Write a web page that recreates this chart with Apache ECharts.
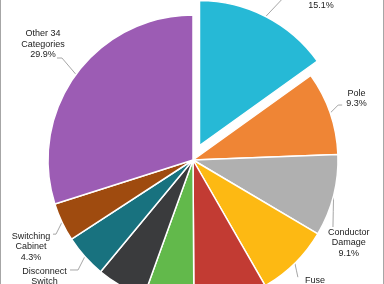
<!DOCTYPE html>
<html>
<head>
<meta charset="utf-8">
<script src="https://cdn.jsdelivr.net/npm/echarts@6/dist/echarts.min.js"></script>
<style>
  html, body { margin: 0; padding: 0; background: #ffffff; }
  #chart { width: 384px; height: 284px; }
</style>
</head>
<body>
<div id="chart"></div>
<script>
// ---- data ----
var categories = ['Transformer', 'Pole', 'Conductor\nDamage', 'Fuse', 'Tree Contact', 'Insulator', 'Recloser', 'Disconnect\nSwitch', 'Switching\nCabinet', 'Other 34\nCategories'];
var values = [15.1, 9.3, 9.1, 8.2, 8.2, 5.6, 5.5, 4.8, 4.3, 29.9];
var colors = ['#26B9D6', '#EF8535', '#B0B0B0', '#FDB913', '#C23B33', '#62B94B', '#3A3B3D', '#18727F', '#9F4B0F', '#9C5CB4'];
var explodedIndex = 0;

// ---- layout / style (not data) ----
var CX = 193, CY = 160, R = 145;
var EXPLODE = [6.5, -14.5]; // pull-out of the exploded slice, px
// label offsets relative to the slice's outer mid point
var labelPlace = [
  { elbow: [18.4, -19.5], end: [26, -19.5], label: [55.2, -15.8] },
  { elbow: [8, -8], end: [12, -8], label: [26.3, -14.5] },
  { elbow: null, end: [-0.6, 31.4], label: [15.2, 47.1] },
  { elbow: null, end: [3, 14], label: [20, 23] },
  { elbow: null, end: [3, 14], label: [15, 25] },
  { elbow: null, end: [-2, 14], label: [-10, 25] },
  { elbow: null, end: [-4, 14], label: [-20, 25] },
  { elbow: [-6.8, 13.4], end: [-14.8, 13.4], label: [-40.3, 25.4] },
  { elbow: [-6, 12], end: [-9, 12], label: [-31, 24.4] },
  { elbow: [-14, -16.4], end: [-19, -16.4], label: [-33, -30] }
];

var total = values.reduce(function (a, b) { return a + b; }, 0);
var midAngles = [];
(function () {
  var acc = 0;
  for (var i = 0; i < values.length; i++) {
    var a = values[i] / total * Math.PI * 2;
    midAngles.push(acc + a / 2);
    acc += a;
  }
})();

// exploded slice drawn by a second pie whose centre is pushed out
var exCenter = [CX + EXPLODE[0], CY + EXPLODE[1]];

function buildData(showExploded) {
  return categories.map(function (c, i) {
    var visible = (i === explodedIndex) === showExploded;
    var item = { name: c, value: values[i], itemStyle: { color: colors[i] } };
    if (!visible) {
      item.itemStyle.opacity = 0;
      item.label = { show: false };
      item.labelLine = { show: false };
    }
    return item;
  });
}

function makeLayout(seriesCenter) {
  return function (params) {
    var i = params.dataIndex;
    var t = midAngles[i];
    var s = Math.sin(t), c = Math.cos(t);
    var px = seriesCenter[0] + R * s, py = seriesCenter[1] - R * c;
    var lp = labelPlace[i];
    var end = [px + lp.end[0], py + lp.end[1]];
    var elbow = lp.elbow ? [px + lp.elbow[0], py + lp.elbow[1]] : [(px + end[0]) / 2, (py + end[1]) / 2];
    return {
      x: px + lp.label[0],
      y: py + lp.label[1],
      align: 'center',
      verticalAlign: 'middle',
      labelLinePoints: [[px, py], elbow, end]
    };
  };
}

function pieSeries(center, showExploded) {
  return {
    type: 'pie',
    center: center,
    radius: [0, R],
    startAngle: 90,
    clockwise: true,
    silent: true,
    avoidLabelOverlap: false,
    itemStyle: { borderColor: '#ffffff', borderWidth: 1.5 },
    emphasis: { disabled: true },
    label: {
      show: true,
      position: 'outside',
      fontFamily: 'Liberation Sans',
      fontSize: 9,
      lineHeight: 10.5,
      color: '#222222',
      formatter: function (p) { return p.name + '\n' + p.value.toFixed(1) + '%'; }
    },
    labelLine: { show: true, lineStyle: { color: '#A6A6A6', width: 1 } },
    labelLayout: makeLayout(center),
    data: buildData(showExploded)
  };
}

var chart = echarts.init(document.getElementById('chart'), null, { renderer: 'canvas' });
chart.setOption({
  animation: false,
  backgroundColor: '#ffffff',
  graphic: [
    { type: 'line', shape: { x1: 0.5, y1: 0, x2: 0.5, y2: 284 }, style: { stroke: '#A6A6A6', lineWidth: 1 } },
    { type: 'line', shape: { x1: 383.5, y1: 0, x2: 383.5, y2: 284 }, style: { stroke: '#A6A6A6', lineWidth: 1 } }
  ],
  series: [
    pieSeries([CX, CY], false),
    pieSeries(exCenter, true)
  ]
});
</script>
</body>
</html>
